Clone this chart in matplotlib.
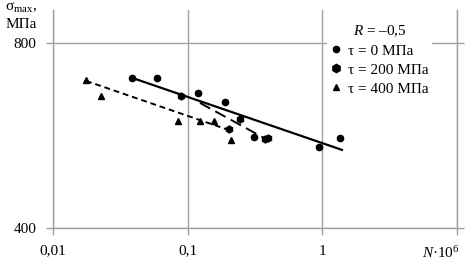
import matplotlib
matplotlib.use("Agg")
import matplotlib.pyplot as plt
from matplotlib.lines import Line2D

plt.rcParams['font.family'] = ['Liberation Serif', 'DejaVu Serif']
plt.rcParams['mathtext.fontset'] = 'custom'
plt.rcParams['mathtext.rm'] = 'Liberation Serif'
plt.rcParams['mathtext.it'] = 'Liberation Serif:italic'

# Data (N in millions of cycles, sigma_max in MPa)
n_tau0 = [0.0386, 0.0592, 0.1193, 0.1892, 0.3106, 0.944, 1.352]
s_tau0 = [702, 702, 663, 641, 562, 542, 560]
n_tau200 = [0.0892, 0.2026, 0.2445, 0.375, 0.395]
s_tau200 = [656, 580, 602, 558, 561]
n_tau400 = [0.0176, 0.0227, 0.0847, 0.1234, 0.1567, 0.2097]
s_tau400 = [697, 656, 597, 597, 598, 556]

# Trend lines (endpoints)
fit0_n = [0.0386, 1.398]
fit0_s = [702, 536]
fit200_n = [0.1234, 0.394]
fit200_s = [639, 556]
fit400_n = [0.0176, 0.2131]
fit400_s = [694, 575]

xticks = [0.01, 0.1, 1, 10]
xticklabels = ['0,01', '0,1', '1', '']
yticks = [400, 800]
yticklabels = ['400', '800']

W, H = 469, 260
fig = plt.figure(figsize=(W / 100, H / 100), dpi=100)
ax = fig.add_axes([53 / W, (H - 228) / H, (457 - 53) / W, (228 - 10) / H])

gray = '#a0a0a0'
fs = 11
ax.set_xscale('log')
ax.set_yscale('log')
ax.set_xlim(0.01, 10)
ax.set_ylim(400, 905)
ax.set_xticks(xticks)
ax.set_xticklabels(xticklabels)
ax.set_yticks(yticks)
ax.set_yticklabels(yticklabels)
ax.minorticks_off()
ax.tick_params(axis='both', which='major', labelsize=fs, color=gray, width=1,
               length=5, direction='out', pad=7)
ax.tick_params(axis='y', right=True, labelright=False)
ax.grid(True, color=gray, linewidth=1)
ax.set_axisbelow(True)
for side in ['left', 'right', 'bottom']:
    ax.spines[side].set_color(gray)
    ax.spines[side].set_linewidth(1)
ax.spines['top'].set_visible(False)

# Trend lines
ax.plot(fit0_n, fit0_s, color='black', lw=1.6, ls='-')
ax.plot(fit200_n, fit200_s, color='black', lw=1.4, ls=(0, (6, 3)))
ax.plot(fit400_n, fit400_s, color='black', lw=1.4, ls=(0, (3, 2)))

# Points
ax.plot(n_tau0, s_tau0, ls='none', marker='o', ms=4.5, color='black')
ax.plot(n_tau200, s_tau200, ls='none', marker='h', ms=5, color='black')
ax.plot(n_tau400, s_tau400, ls='none', marker='^', ms=4.5, color='black')

handles = [
    Line2D([], [], ls='none', marker='o', ms=4.5, color='black'),
    Line2D([], [], ls='none', marker='h', ms=6, color='black'),
    Line2D([], [], ls='none', marker='^', ms=5, color='black'),
]
labels = ['τ = 0 МПа', 'τ = 200 МПа', 'τ = 400 МПа']
leg = fig.legend(handles, labels, title='$R$ = –0,5', loc='upper left',
                 bbox_to_anchor=(327 / W, 1 - 20 / H), frameon=True,
                 fontsize=fs, title_fontsize=fs, handlelength=0.8,
                 handletextpad=0.4, labelspacing=0.35, borderpad=0.2,
                 borderaxespad=0)
leg.get_frame().set_facecolor('white')
leg.get_frame().set_edgecolor('none')
leg.get_frame().set_alpha(1)

# Axis labels
fig.text(37 / W, 1 - 8 / H, r'σ$_{\rm max}$,', ha='right', va='center', fontsize=fs)
fig.text(37 / W, 1 - 25 / H, 'МПа', ha='right', va='center', fontsize=fs)
ax.annotate('$N$·10$^6$', xy=(10, 400), xycoords='data', xytext=(2, -12),
            textcoords='offset points', ha='right', va='top', fontsize=fs)

fig.savefig('out.png', dpi=100)
